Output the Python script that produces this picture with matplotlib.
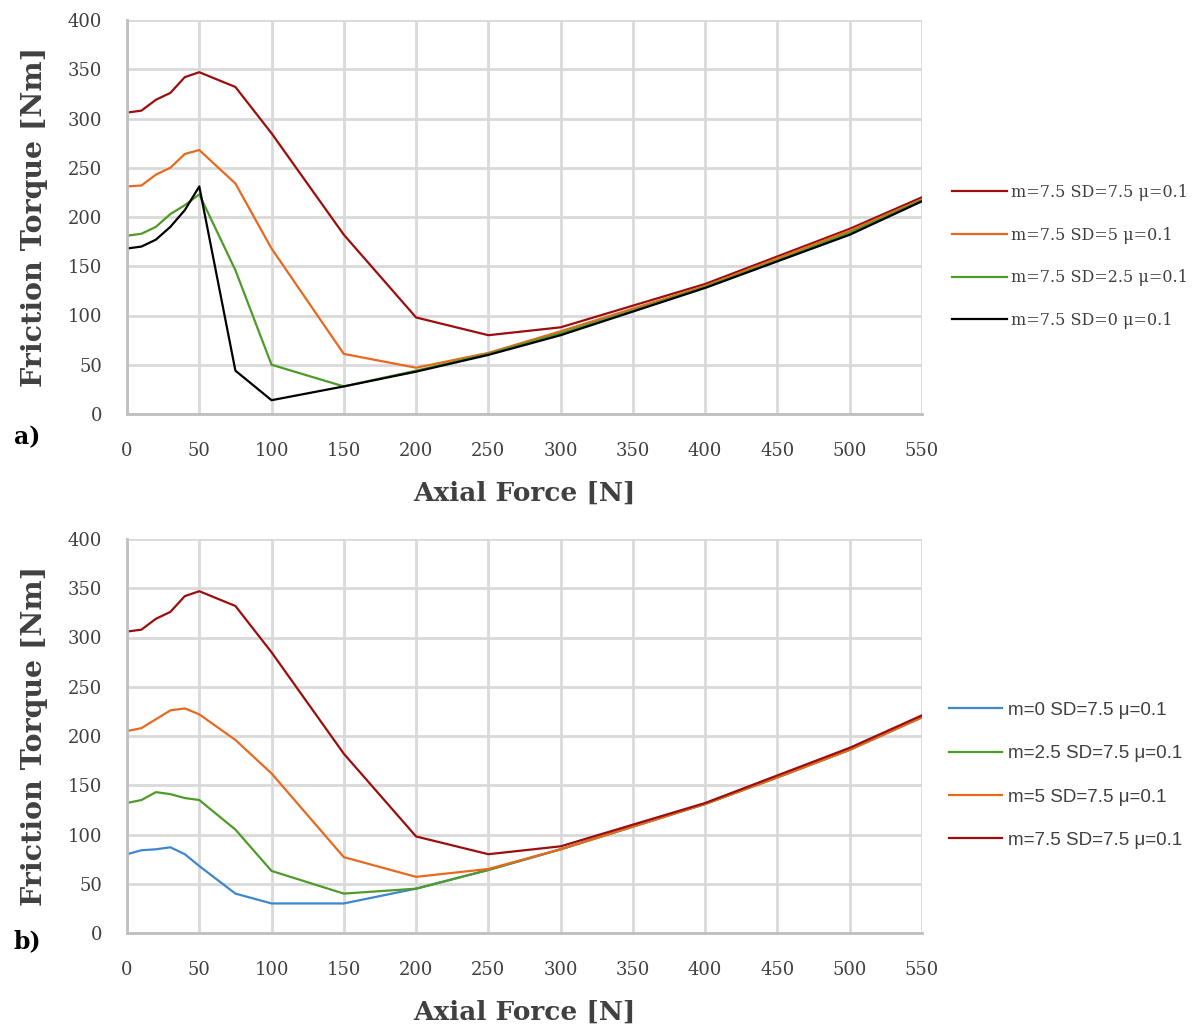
import matplotlib
matplotlib.use("Agg")
import matplotlib.pyplot as plt

# axial force [N]
force = [0, 10, 20, 30, 40, 50, 75, 100, 150, 200, 250, 300, 350, 400, 450, 500, 550]

# a) m=7.5, varying SD
a_sd75 = [306, 308, 319, 326, 342, 347, 332, 285, 182, 98, 80, 88, 110, 132, 160, 188, 220]
a_sd5 = [231, 232, 243, 250, 264, 268, 234, 168, 61, 47, 62, 84, 107, 130, 158, 186, 218]
a_sd25 = [181, 183, 190, 203, 212, 223, 146, 50, 28, 44, 61, 82, 105, 129, 156, 184, 217]
a_sd0 = [168, 170, 177, 190, 207, 231, 44, 14, 28, 43, 60, 80, 104, 128, 155, 182, 216]

# b) SD=7.5, varying m
b_m0 = [80, 84, 85, 87, 80, 68, 40, 30, 30, 45, 64, 85, 108, 131, 158, 186, 219]
b_m25 = [132, 135, 143, 141, 137, 135, 105, 63, 40, 45, 64, 85, 108, 131, 158, 186, 219]
b_m5 = [205, 208, 217, 226, 228, 222, 196, 162, 77, 57, 65, 85, 108, 131, 158, 186, 219]
b_m75 = [306, 308, 319, 326, 342, 347, 332, 285, 182, 98, 80, 88, 110, 132, 160, 188, 221]

labels_a = ["m=7.5 SD=7.5 \u03bc=0.1", "m=7.5 SD=5 \u03bc=0.1",
            "m=7.5 SD=2.5 \u03bc=0.1", "m=7.5 SD=0 \u03bc=0.1"]
labels_b = ["m=0 SD=7.5 \u03bc=0.1", "m=2.5 SD=7.5 \u03bc=0.1",
            "m=5 SD=7.5 \u03bc=0.1", "m=7.5 SD=7.5 \u03bc=0.1"]

DRED = "#9c0d0d"
ORANGE = "#e8691e"
GREEN = "#4f9a29"
BLACK = "#000000"
BLUE = "#3f86d0"

W, H = 1197, 1029
fig = plt.figure(figsize=(W / 100, H / 100), dpi=100)
serif = "DejaVu Serif"


def setup(ax):
    ax.set_xlim(0, 550)
    ax.set_ylim(0, 400)
    ax.set_xticks(range(0, 551, 50))
    ax.set_yticks(range(0, 401, 50))
    ax.grid(True, color="#d9d9d9", linewidth=2)
    ax.set_axisbelow(True)
    for s in ["top", "right"]:
        ax.spines[s].set_visible(False)
    for s in ["left", "bottom"]:
        ax.spines[s].set_color("#bfbfbf")
        ax.spines[s].set_linewidth(2)
    ax.tick_params(length=0, labelsize=13, colors="#404040")
    ax.tick_params(axis="x", pad=20)
    ax.tick_params(axis="y", pad=18)
    for t in ax.get_xticklabels() + ax.get_yticklabels():
        t.set_family(serif)
    ax.set_ylabel("Friction Torque [Nm]", fontsize=20.5, fontweight="bold",
                  family=serif, color="#404040", labelpad=14)
    ax.set_xlabel("Axial Force [N]", fontsize=19, fontweight="bold",
                  family=serif, color="#404040", labelpad=15)


ax1 = fig.add_axes([127 / W, 1 - 414 / H, 795 / W, 394 / H])
setup(ax1)
for y, c, lab in zip([a_sd75, a_sd5, a_sd25, a_sd0],
                     [DRED, ORANGE, GREEN, BLACK], labels_a):
    ax1.plot(force, y, color=c, linewidth=1.6, label=lab)
leg1 = ax1.legend(loc="center left", bbox_to_anchor=(1.03, 0.40), frameon=False,
                  prop={"family": serif, "size": 11.5}, handlelength=3.4,
                  labelspacing=1.6, handletextpad=0.3, borderaxespad=0)
for t in leg1.get_texts():
    t.set_color("#404040")

ax2 = fig.add_axes([127 / W, 1 - 933 / H, 795 / W, 394 / H])
setup(ax2)
for y, c, lab in zip([b_m0, b_m25, b_m5, b_m75],
                     [BLUE, GREEN, ORANGE, DRED], labels_b):
    ax2.plot(force, y, color=c, linewidth=1.6, label=lab)
leg2 = ax2.legend(loc="center left", bbox_to_anchor=(1.025, 0.40), frameon=False,
                  prop={"family": "Liberation Sans", "size": 13.5}, handlelength=2.8,
                  labelspacing=1.4, handletextpad=0.3, borderaxespad=0)
for t in leg2.get_texts():
    t.set_color("#404040")

fig.text(14 / W, 1 - 437 / H, "a)", fontsize=17, fontweight="bold",
         family=serif, va="center")
fig.text(14 / W, 1 - 941 / H, "b)", fontsize=17, fontweight="bold",
         family=serif, va="center")

fig.savefig("out.png", dpi=100, facecolor="white")
